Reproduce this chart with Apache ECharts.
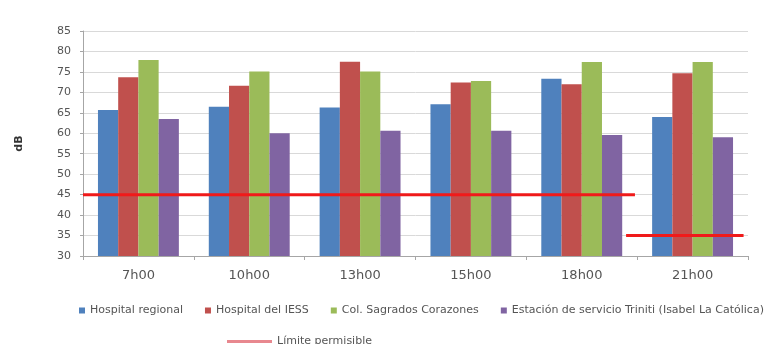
<!DOCTYPE html>
<html>
<head>
<meta charset="utf-8">
<script src="https://cdn.jsdelivr.net/npm/echarts@6/dist/echarts.min.js"></script>
<style>html,body{margin:0;padding:0;background:#fff}#c{width:775px;height:344px}</style>
</head>
<body>
<div id="c"></div>
<script>
const categories = ['7h00', '10h00', '13h00', '15h00', '18h00', '21h00'];
const seriesNames = ['Hospital regional', 'Hospital del IESS', 'Col. Sagrados Corazones', 'Estación de servicio Triniti (Isabel La Católica)'];
const hospitalRegional = [65.7, 66.5, 66.3, 67.1, 73.3, 64.0];
const hospitalIESS = [73.7, 71.6, 77.5, 72.4, 72.0, 74.7];
const colSagrados = [77.9, 75.1, 75.1, 72.8, 77.4, 77.4];
const estacion = [63.5, 60.0, 60.6, 60.6, 59.6, 59.0];
const limitName = 'Límite permisible';
const limitDayX = [0, 4.98];
const limitDay = [45, 45];
const limitNightX = [4.9, 5.96];
const limitNight = [35, 35];
const yTicks = [30, 35, 40, 45, 50, 55, 60, 65, 70, 75, 80, 85];

const colors = ['#4F81BD', '#C0504D', '#9BBB59', '#8064A2'];
const barData = [hospitalRegional, hospitalIESS, colSagrados, estacion];

const chart = echarts.init(document.getElementById('c'), null, {renderer: 'canvas'});
const txt = '#555';
const font = 'DejaVu Sans';
const series = barData.map((d, i) => ({
  name: seriesNames[i], type: 'bar', data: d, xAxisIndex: 0, yAxisIndex: 0,
  itemStyle: {color: colors[i]}, barGap: '0%', barCategoryGap: '27%'
}));
series.push({
  name: limitName, type: 'line', xAxisIndex: 1, yAxisIndex: 0, symbol: 'none',
  data: limitDayX.map((x, i) => [x, limitDay[i]]),
  lineStyle: {color: '#F01A1A', width: 3}, itemStyle: {color: '#E8888F'}, z: 5
});
series.push({
  name: limitName, type: 'line', xAxisIndex: 1, yAxisIndex: 0, symbol: 'none',
  data: limitNightX.map((x, i) => [x, limitNight[i]]),
  lineStyle: {color: '#F01A1A', width: 3}, itemStyle: {color: '#E8888F'}, z: 5
});

chart.setOption({
  animation: false,
  textStyle: {fontFamily: font},
  grid: {left: 83, right: 27, top: 31, bottom: 88, containLabel: false},
  xAxis: [{
    type: 'category', data: categories,
    axisLine: {lineStyle: {color: '#A6A6A6'}},
    axisTick: {show: true, length: 4, lineStyle: {color: '#A6A6A6'}},
    axisLabel: {color: txt, fontSize: 13, margin: 13, fontFamily: font}
  }, {
    type: 'value', min: 0, max: 6, show: false
  }],
  yAxis: {
    type: 'value', min: yTicks[0], max: yTicks[yTicks.length - 1], interval: 5,
    name: 'dB', nameLocation: 'middle', nameGap: 58, nameRotate: 90,
    nameTextStyle: {color: '#333', fontSize: 11, fontWeight: 'bold', fontFamily: font},
    axisLine: {show: true, lineStyle: {color: '#A6A6A6'}},
    axisTick: {show: true, length: 3, lineStyle: {color: '#A6A6A6'}},
    axisLabel: {color: txt, fontSize: 11, margin: 12, fontFamily: font},
    splitLine: {lineStyle: {color: '#D9D9D9'}}
  },
  legend: [{
    data: seriesNames, left: 74, top: 300, itemWidth: 6, itemHeight: 6, itemGap: 22,
    icon: 'rect', textStyle: {color: txt, fontSize: 11, fontFamily: font}
  }, {
    data: [limitName], left: 222, top: 331, itemWidth: 45, itemHeight: 3,
    textStyle: {color: txt, fontSize: 11, fontFamily: font},
    icon: 'rect'
  }],
  series: series
});
</script>
</body>
</html>
